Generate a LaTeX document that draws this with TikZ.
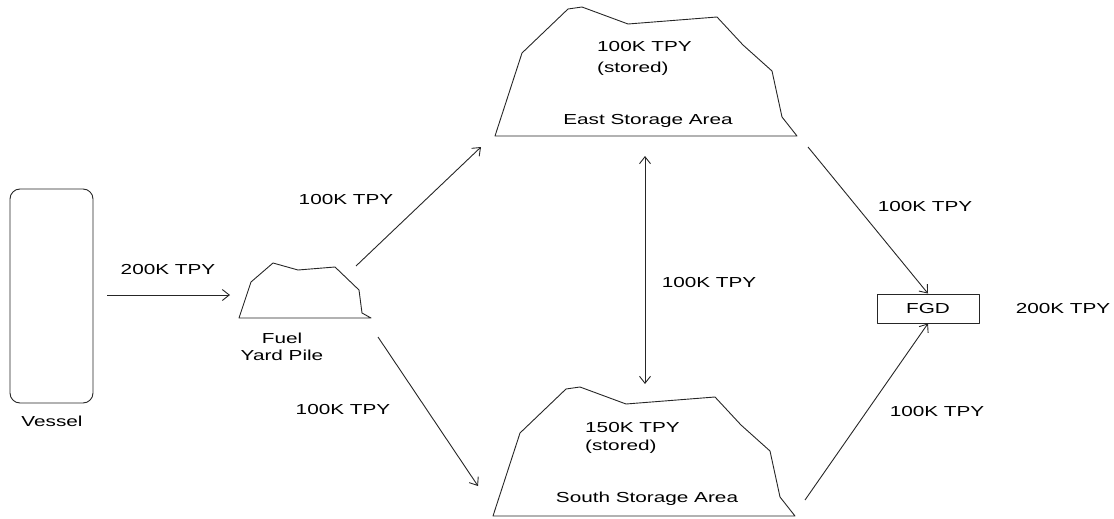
\documentclass[tikz,border=0pt]{standalone}
\usepackage{fontspec}
\setmainfont{Liberation Sans}[FakeStretch=1.43]
\usetikzlibrary{arrows.meta}
\tikzset{
  lbl/.style={inner sep=0pt, font=\fontsize{14.5}{17}\selectfont, text=black},
  ln/.style={draw=black!85, line width=0.9pt, line join=round},
  flow/.style={ln, -{Straight Barb[length=7pt,width=11pt,line width=0.9pt]}},
  bothflow/.style={ln, {Straight Barb[length=7pt,width=11pt,line width=0.9pt]}-{Straight Barb[length=7pt,width=11pt,line width=0.9pt]}},
  pile/.pic={
    \draw[ln] (495,136) -- (522,53) -- (568,9) -- (582,7) -- (628,24) -- (717,17)
      -- (743,45) -- (772,71) -- (782,117) -- (797,136) -- cycle;
  }
}
\begin{document}
\begin{tikzpicture}[x=1pt,y=-1pt]
\useasboundingbox (0,0) rectangle (1114,519);

% Vessel
\node[ln, rounded corners=10pt, minimum width=83pt, minimum height=214pt, inner sep=0pt] (vessel) at (51.5,296) {};
\node[lbl] (vessellbl) at (52,421) {Vessel};
\coordinate (vout) at (107,295);

% Fuel yard pile
\draw[ln] (239,318) -- (251,282) -- (273,263) -- (298,270) -- (335,267)
  -- (359,290) -- (362,313) -- (371,318) -- cycle;
\node[lbl, align=center, font=\fontsize{14.5}{17}\selectfont] (fuellbl) at (282,347) {Fuel\\Yard Pile};
\coordinate (fuelin) at (230,295);
\coordinate (fuelNE) at (356,266);
\coordinate (fuelSE) at (378,337);

% East storage
\pic at (0,0) {pile};
\node[lbl, align=left, anchor=west, font=\fontsize{14.5}{21}\selectfont] (eastlbl) at (597,58.5) {100K TPY\\(stored)};
\node[lbl] (eastname) at (648,121) {East Storage Area};
\coordinate (eastSW) at (481,147);
\coordinate (eastS) at (645,156);
\coordinate (eastSE) at (808,147);

% South storage
\pic at (-2,380) {pile};
\node[lbl, align=left, anchor=west, font=\fontsize{14.5}{18}\selectfont] (southlbl) at (585,438) {150K TPY\\(stored)};
\node[lbl] (southname) at (647,499) {South Storage Area};
\coordinate (southNW) at (478,486);
\coordinate (southN) at (645,384);
\coordinate (southNE) at (805,500);

% FGD
\node[ln, minimum width=102pt, minimum height=29pt, inner sep=0pt, lbl] (fgd) at (928,308.5) {FGD};
\node[lbl] (fgdlbl) at (1063,309) {200K TPY};

% Connectors
\draw[flow] (vout) -- (fuelin);
\draw[flow] (fuelNE) -- (eastSW);
\draw[flow] (fuelSE) -- (southNW);
\draw[bothflow] (eastS) -- (southN);
\draw[flow] (eastSE) -- (fgd.north);
\draw[flow] (southNE) -- (fgd.south);

% Flow labels
\node[lbl] (l1) at (168,270) {200K TPY};
\node[lbl] (l2) at (346,200) {100K TPY};
\node[lbl] (l3) at (343,410) {100K TPY};
\node[lbl] (l4) at (709,283) {100K TPY};
\node[lbl] (l5) at (925,207) {100K TPY};
\node[lbl] (l6) at (937,412) {100K TPY};
\end{tikzpicture}
\end{document}
